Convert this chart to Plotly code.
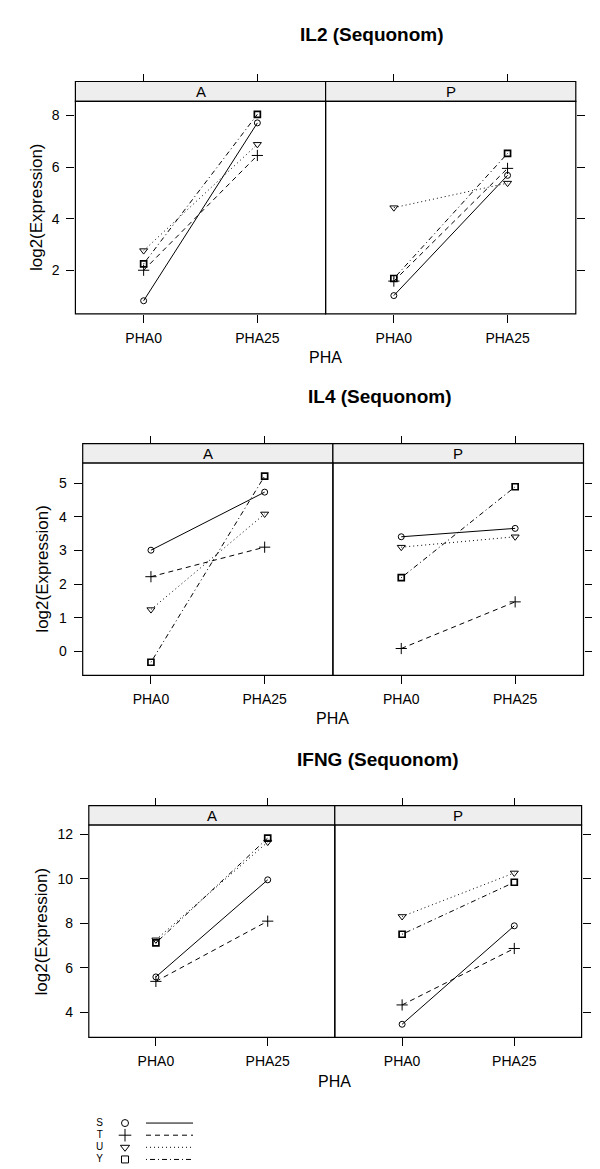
import plotly.graph_objects as go

# ---------------- data ----------------
pha_levels = ["PHA0", "PHA25"]
panels = ["A", "P"]
subjects = ["S", "T", "U", "Y"]
titles = ["IL2 (Sequonom)", "IL4 (Sequonom)", "IFNG (Sequonom)"]

il2_A = {"S": [0.83, 7.71], "T": [2.01, 6.45], "U": [2.77, 6.88], "Y": [2.26, 8.04]}
il2_P = {"S": [1.03, 5.68], "T": [1.59, 5.95], "U": [4.43, 5.38], "Y": [1.69, 6.53]}
il4_A = {"S": [3.01, 4.74], "T": [2.22, 3.10], "U": [1.24, 4.09], "Y": [-0.33, 5.22]}
il4_P = {"S": [3.41, 3.66], "T": [0.08, 1.47], "U": [3.10, 3.41], "Y": [2.19, 4.90]}
ifng_A = {"S": [5.58, 9.95], "T": [5.38, 8.09], "U": [7.25, 11.65], "Y": [7.11, 11.83]}
ifng_P = {"S": [3.45, 7.88], "T": [4.32, 6.86], "U": [8.30, 10.26], "Y": [7.50, 9.84]}

il2_yticks = [2, 4, 6, 8]
il4_yticks = [0, 1, 2, 3, 4, 5]
ifng_yticks = [4, 6, 8, 10, 12]

charts = [
    (titles[0], [il2_A, il2_P], il2_yticks),
    (titles[1], [il4_A, il4_P], il4_yticks),
    (titles[2], [ifng_A, ifng_P], ifng_yticks),
]

# ---------------- layout / style constants ----------------
W, H = 600, 1169
FONT = "Liberation Sans, Arial, sans-serif"
STRIP_FILL = "#eeeeee"

GEOM = [
    dict(left=67.4, div=317.6, right=567.8, strip_top=73.5, strip_bot=93.3, plot_bot=305.8,
         title_x=364.0, title_y=26.0, ylab_x=28.5, xlab_y=350.0),
    dict(left=74.7, div=324.9, right=575.5, strip_top=435.7, strip_bot=455.0, plot_bot=667.3,
         title_x=371.6, title_y=388.3, ylab_x=34.5, xlab_y=710.0),
    dict(left=80.8, div=326.8, right=573.6, strip_top=797.7, strip_bot=817.0, plot_bot=1029.3,
         title_x=369.7, title_y=751.7, ylab_x=33.3, xlab_y=1073.3),
]

STYLE = {
    "S": dict(symbol="circle-open", size=6, lw=1.0, dash="solid"),
    "T": dict(symbol="cross-thin-open", size=8, lw=1.0, dash="5px,4px"),
    "U": dict(symbol="triangle-down-open", size=7, lw=1.0, dash="1px,3px"),
    "Y": dict(symbol="square-open", size=6, lw=1.7, dash="1px,3px,5px,3px"),
}

# legend (key) geometry in pixels
KEY_LEFT, KEY_RIGHT = 85.0, 185.0
KEY_TOP, KEY_BOT = 1109.0, 1157.5
KEY_LABEL_X = 6.7
KEY_SYMBOL_X = 32.0
KEY_LINE_X = [53.0, 100.0]


def fx(px):
    return px / W


def fy(py):
    return 1 - py / H


fig = go.Figure()
layout = dict(
    width=W, height=H, autosize=False,
    margin=dict(l=0, r=0, t=0, b=0),
    paper_bgcolor="white", plot_bgcolor="white",
    showlegend=False,
    font=dict(family=FONT, color="black"),
)
shapes = []
annotations = []

n_main = 6
for g, (title, panel_data, yticks) in enumerate(charts):
    G = GEOM[g]
    allv = [v for d in panel_data for s in subjects for v in d[s]]
    lo, hi = min(allv), max(allv)
    pad = 0.07 * (hi - lo)
    yrange = [lo - pad, hi + pad]
    bounds = [(G["left"], G["div"]), (G["div"], G["right"])]
    for p, pdata in enumerate(panel_data):
        i = g * 2 + p + 1
        it = n_main + i
        xname = "xaxis" if i == 1 else f"xaxis{i}"
        yname = "yaxis" if i == 1 else f"yaxis{i}"
        xref = "x" if i == 1 else f"x{i}"
        yref = "y" if i == 1 else f"y{i}"
        x0, x1 = bounds[p]
        layout[xname] = dict(
            domain=[fx(x0), fx(x1)], anchor=yref, type="category",
            categoryorder="array", categoryarray=pha_levels, range=[-0.6, 1.6],
            showgrid=False, zeroline=False, showline=False,
            ticks="outside", ticklen=8, tickwidth=1, tickcolor="black",
            tickfont=dict(size=14, family=FONT, color="black"),
            ticklabelstandoff=3, fixedrange=True,
        )
        layout[f"xaxis{it}"] = dict(
            overlaying=xref, anchor="free", position=fy(G["strip_top"]), side="top",
            type="category", categoryorder="array", categoryarray=pha_levels,
            range=[-0.6, 1.6], showgrid=False, zeroline=False, showline=False,
            ticks="outside", ticklen=8, tickwidth=1, tickcolor="black",
            showticklabels=False, fixedrange=True,
        )
        layout[yname] = dict(
            domain=[fy(G["plot_bot"]), fy(G["strip_bot"])], anchor=xref,
            range=yrange, tickvals=yticks, side="left" if p == 0 else "right",
            showticklabels=(p == 0), showgrid=False, zeroline=False, showline=False,
            ticks="outside", ticklen=8, tickwidth=1, tickcolor="black",
            tickfont=dict(size=14, family=FONT, color="black"),
            ticklabelstandoff=4, fixedrange=True,
        )
        # invisible trace to activate top-tick axis
        fig.add_trace(go.Scatter(x=pha_levels, y=[None, None], xaxis=f"x{it}", yaxis=yref,
                                 mode="markers", showlegend=False, hoverinfo="skip"))
        for s in subjects:
            st = STYLE[s]
            fig.add_trace(go.Scatter(
                x=pha_levels, y=pdata[s], xaxis=xref, yaxis=yref, mode="lines+markers",
                line=dict(color="black", width=1, dash=st["dash"]),
                marker=dict(symbol=st["symbol"], size=st["size"], color="black",
                            line=dict(color="black", width=st["lw"])),
                name=s, hoverinfo="skip", cliponaxis=False,
            ))
        # strip + border
        shapes.append(dict(type="rect", xref="paper", yref="paper",
                           x0=fx(x0), x1=fx(x1), y0=fy(G["strip_bot"]), y1=fy(G["strip_top"]),
                           fillcolor=STRIP_FILL, line=dict(color="black", width=1.2), layer="below"))
        shapes.append(dict(type="rect", xref="paper", yref="paper",
                           x0=fx(x0), x1=fx(x1), y0=fy(G["plot_bot"]), y1=fy(G["strip_bot"]),
                           fillcolor="rgba(0,0,0,0)", line=dict(color="black", width=1.2), layer="above"))
        annotations.append(dict(text=panels[p], xref="paper", yref="paper",
                                x=fx((x0 + x1) / 2), y=fy((G["strip_top"] + G["strip_bot"]) / 2),
                                xanchor="center", yanchor="middle", showarrow=False,
                                font=dict(size=15, family=FONT, color="black")))
    annotations.append(dict(text=f"<b>{title}</b>", xref="paper", yref="paper",
                            x=fx(G["title_x"]), y=fy(G["title_y"]), xanchor="center", yanchor="middle",
                            showarrow=False, font=dict(size=19, family=FONT, color="black")))
    annotations.append(dict(text="log2(Expression)", xref="paper", yref="paper",
                            x=fx(G["ylab_x"]), y=fy((G["strip_bot"] + G["plot_bot"]) / 2),
                            xanchor="center", yanchor="middle", textangle=-90, showarrow=False,
                            font=dict(size=17, family=FONT, color="black")))
    annotations.append(dict(text="PHA", xref="paper", yref="paper",
                            x=fx(G["div"]), y=fy(G["xlab_y"]), xanchor="center", yanchor="middle",
                            showarrow=False, font=dict(size=16, family=FONT, color="black")))

# ---------------- key ----------------
kx, ky = "x13", "y7"
layout["xaxis13"] = dict(domain=[fx(KEY_LEFT), fx(KEY_RIGHT)], anchor=ky, range=[0, 100],
                         visible=False, fixedrange=True)
layout["yaxis7"] = dict(domain=[fy(KEY_BOT), fy(KEY_TOP)], anchor=kx, type="category",
                        categoryorder="array", categoryarray=subjects[::-1],
                        range=[-0.5, len(subjects) - 0.5], visible=False, fixedrange=True)
fig.add_trace(go.Scatter(x=[KEY_LABEL_X] * len(subjects), y=subjects, text=subjects,
                         mode="text", textfont=dict(size=10, family=FONT, color="black"),
                         xaxis=kx, yaxis=ky, showlegend=False, hoverinfo="skip", cliponaxis=False))
for s in subjects:
    st = STYLE[s]
    fig.add_trace(go.Scatter(x=[KEY_SYMBOL_X], y=[s], mode="markers", xaxis=kx, yaxis=ky,
                             marker=dict(symbol=st["symbol"], size=st["size"] + 1, color="black",
                                         line=dict(color="black", width=1.0)),
                             showlegend=False, hoverinfo="skip", cliponaxis=False))
    fig.add_trace(go.Scatter(x=KEY_LINE_X, y=[s, s], mode="lines", xaxis=kx, yaxis=ky,
                             line=dict(color="black", width=1, dash=st["dash"]),
                             showlegend=False, hoverinfo="skip", cliponaxis=False))

layout["shapes"] = shapes
layout["annotations"] = annotations
fig.update_layout(**layout)
fig.write_html("out.html")
